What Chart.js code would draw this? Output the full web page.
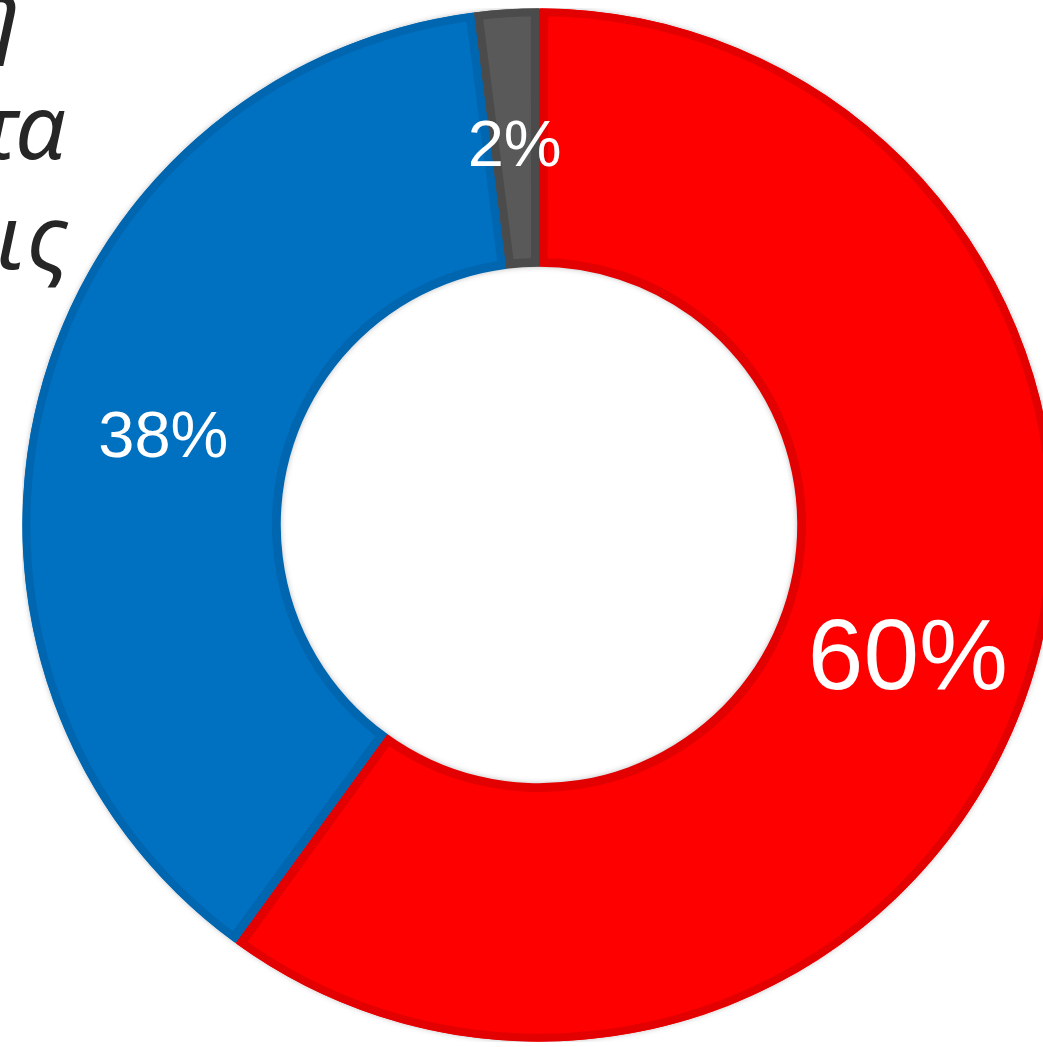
<!DOCTYPE html>
<html>
<head>
<meta charset="utf-8">
<script src="https://cdn.jsdelivr.net/npm/chart.js@4/dist/chart.umd.min.js"></script>
<style>
  html, body { margin: 0; padding: 0; background: #fff; overflow: hidden; width: 1043px; height: 1047px; }
  .wrap { position: absolute; left: 22px; top: 8px; width: 1034px; height: 1034px; }
  .side { position: absolute; font-family: "Noto Sans", sans-serif; font-style: italic; font-size: 90px; color: #262626; white-space: nowrap; line-height: 1; }
</style>
</head>
<body>
<div class="side" style="right: 1023px; top: -36px;">στη</div>
<div class="side" style="right: 977px; top: 79px;">κατά τα</div>
<div class="side" style="right: 969px; top: 189px; letter-spacing: 5px;">για τις</div>
<div class="wrap"><canvas id="chart"></canvas></div>
<script>
const categories = ['Κατά', 'Υπέρ', 'Λευκά'];
const shares = [60, 38, 2];
const fills = ['#ff0000', '#0070c0', '#595959'];
const edges = ['#e30000', '#0066b0', '#4b4b4b'];

// soft halo behind the ring
const ringShadow = {
  id: 'ringShadow',
  beforeDatasetsDraw(chart) {
    const arc = chart.getDatasetMeta(0).data[0];
    if (!arc) return;
    const { x, y, outerRadius, innerRadius } = arc.getProps(['x', 'y', 'outerRadius', 'innerRadius'], true);
    const ctx = chart.ctx;
    ctx.save();
    ctx.shadowColor = 'rgba(0,0,0,0.35)';
    ctx.shadowBlur = 6;
    ctx.fillStyle = '#fff';
    ctx.beginPath();
    ctx.arc(x, y, outerRadius - 1, 0, Math.PI * 2);
    ctx.arc(x, y, innerRadius + 1, 0, Math.PI * 2, true);
    ctx.fill();
    ctx.restore();
  }
};

// percentage in the middle of each slice
const sliceLabels = {
  id: 'sliceLabels',
  afterDatasetsDraw(chart) {
    const ctx = chart.ctx;
    const values = chart.data.datasets[0].data;
    chart.getDatasetMeta(0).data.forEach((arc, i) => {
      const p = arc.tooltipPosition();
      const size = values[i] >= 50 ? 100 : 65;
      ctx.save();
      ctx.fillStyle = '#fff';
      ctx.font = size + 'px "Liberation Sans", Arial, sans-serif';
      ctx.textAlign = 'center';
      ctx.textBaseline = 'alphabetic';
      ctx.fillText(values[i] + '%', p.x, p.y + size * 0.44);
      ctx.restore();
    });
  }
};

new Chart(document.getElementById('chart'), {
  type: 'doughnut',
  data: {
    labels: categories,
    datasets: [{
      data: shares,
      backgroundColor: fills,
      borderColor: edges,
      borderWidth: 8,
      borderAlign: 'inner',
      spacing: 1,
      hoverOffset: 0
    }]
  },
  options: {
    responsive: true,
    maintainAspectRatio: false,
    animation: false,
    cutout: '50%',
    layout: { padding: 0 },
    plugins: {
      legend: { display: false },
      tooltip: { enabled: false }
    }
  },
  plugins: [ringShadow, sliceLabels]
});
</script>
</body>
</html>
